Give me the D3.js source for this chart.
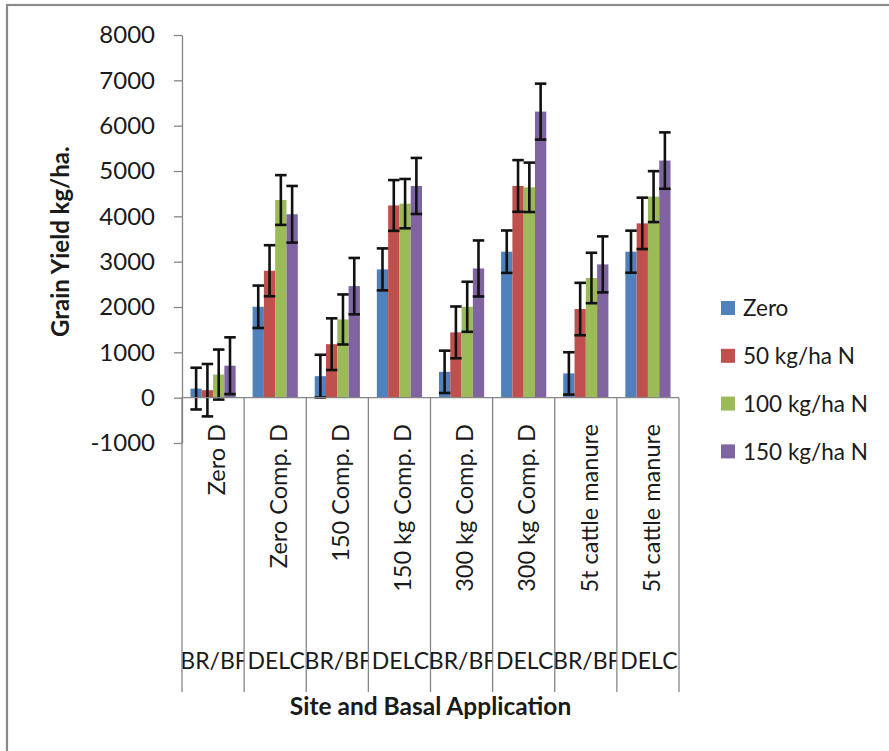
<!DOCTYPE html>
<html>
<head>
<meta charset="utf-8">
<script src="https://cdn.jsdelivr.net/npm/d3@7"></script>
<style>
  html, body { margin: 0; padding: 0; background: #fff; }
  svg { display: block; font-family: Lato, "Open Sans", sans-serif; }
</style>
</head>
<body>
<svg id="chart" width="889" height="751"></svg>
<script>
// ---- data ----
const treatments = ["Zero D", "Zero Comp. D", "150 Comp. D", "150 kg Comp. D",
                    "300 kg Comp. D", "300 kg Comp. D", "5t cattle manure", "5t cattle manure"];
const sites = ["BR/BF", "DELC", "BR/BF", "DELC", "BR/BF", "DELC", "BR/BF", "DELC"];
const seriesNames = ["Zero", "50 kg/ha N", "100 kg/ha N", "150 kg/ha N"];
const seriesColors = ["#4F81BD", "#C0504D", "#9BBB59", "#8064A2"];
const valZero = [200, 2005, 475, 2830, 570, 3220, 535, 3220];
const val50   = [165, 2800, 1180, 4240, 1440, 4670, 1955, 3845];
const val100  = [510, 4360, 1725, 4280, 2005, 4640, 2640, 4435];
const val150  = [705, 4045, 2460, 4670, 2850, 6310, 2940, 5230];
const errZero = [460, 468, 471, 463, 467, 468, 467, 464];
const err50   = [578, 563, 570, 560, 571, 570, 578, 567];
const err100  = [552, 549, 552, 544, 552, 545, 556, 562];
const err150  = [626, 625, 622, 618, 618, 617, 618, 622];
const yTicks = [-1000, 0, 1000, 2000, 3000, 4000, 5000, 6000, 7000, 8000];
const yTitle = "Grain Yield kg/ha.";
const xTitle = "Site and Basal Application";

const values = [valZero, val50, val100, val150];
const errors = [errZero, err50, err100, err150];

// ---- layout ----
const svg = d3.select("#chart");
const plotLeft = 182, plotRight = 679, plotTop = 35, plotBottom = 443;
const labelBottom = 692;
const axisColor = "#868686";

// outer frame
svg.append("rect")
  .attr("x", 7).attr("y", 5).attr("width", 900).attr("height", 800)
  .attr("fill", "none").attr("stroke", "#8a8a8a").attr("stroke-width", 2.2);

const idx = d3.range(treatments.length);
const x0 = d3.scaleBand().domain(idx).range([plotLeft, plotRight]).padding(0);
const x1 = d3.scaleBand().domain(d3.range(seriesNames.length))
  .range([0, x0.bandwidth()]).paddingInner(0).paddingOuter(0.75);
const y = d3.scaleLinear().domain([-1000, 8000]).range([plotBottom, plotTop]);

// y axis
const yAxis = svg.append("g")
  .attr("transform", `translate(${plotLeft},0)`)
  .call(d3.axisLeft(y).tickValues(yTicks).tickFormat(d => String(d))
        .tickSize(8).tickPadding(19).tickSizeOuter(0));
yAxis.select(".domain").attr("stroke", axisColor).attr("stroke-width", 1.3);
yAxis.selectAll(".tick line").attr("stroke", axisColor).attr("stroke-width", 1.3);
yAxis.selectAll(".tick text")
  .attr("font-family", "Lato, sans-serif").attr("font-size", 24).attr("fill", "#1a1a1a");

// bars
const groups = svg.append("g").selectAll("g")
  .data(idx).join("g")
  .attr("transform", i => `translate(${x0(i)},0)`);

groups.selectAll("rect")
  .data(i => seriesNames.map((s, k) => ({k, v: values[k][i]})))
  .join("rect")
  .attr("x", d => x1(d.k))
  .attr("width", x1.bandwidth())
  .attr("y", d => y(Math.max(0, d.v)))
  .attr("height", d => Math.abs(y(d.v) - y(0)))
  .attr("fill", d => seriesColors[d.k]);

// x axis baseline
svg.append("line")
  .attr("x1", plotLeft).attr("x2", plotRight)
  .attr("y1", y(0)).attr("y2", y(0))
  .attr("stroke", axisColor).attr("stroke-width", 1.3);

// error bars
const capW = 11.5;
const eb = groups.selectAll("g.err")
  .data(i => seriesNames.map((s, k) => ({k, v: values[k][i], e: errors[k][i]})))
  .join("g").attr("class", "err")
  .attr("stroke", "#111").attr("stroke-width", 2.6);
eb.append("line")
  .attr("x1", d => x1(d.k) + x1.bandwidth() / 2)
  .attr("x2", d => x1(d.k) + x1.bandwidth() / 2)
  .attr("y1", d => y(d.v + d.e)).attr("y2", d => y(d.v - d.e));
eb.append("line")
  .attr("x1", d => x1(d.k) + x1.bandwidth() / 2 - capW / 2)
  .attr("x2", d => x1(d.k) + x1.bandwidth() / 2 + capW / 2)
  .attr("y1", d => y(d.v + d.e)).attr("y2", d => y(d.v + d.e));
eb.append("line")
  .attr("x1", d => x1(d.k) + x1.bandwidth() / 2 - capW / 2)
  .attr("x2", d => x1(d.k) + x1.bandwidth() / 2 + capW / 2)
  .attr("y1", d => y(d.v - d.e)).attr("y2", d => y(d.v - d.e));

// category separators
const bounds = idx.map(i => x0(i)).concat([x0(idx[idx.length - 1]) + x0.bandwidth()]);
svg.append("g").selectAll("line")
  .data(bounds).join("line")
  .attr("x1", d => d).attr("x2", d => d)
  .attr("y1", y(0)).attr("y2", labelBottom)
  .attr("stroke", axisColor).attr("stroke-width", 1.3);

// rotated treatment labels
svg.append("g").selectAll("text")
  .data(idx).join("text")
  .attr("transform", i => `translate(${x0(i) + x0.bandwidth() / 2},424) rotate(-90)`)
  .attr("text-anchor", "end")
  .attr("dy", "0.5em")
  .attr("font-size", 23.5).attr("fill", "#1a1a1a")
  .text(i => treatments[i]);

// site labels, clipped to cell
const defs = svg.append("defs");
idx.forEach(i => {
  defs.append("clipPath").attr("id", "clip" + i)
    .append("rect").attr("x", x0(i) + 0.5).attr("y", 630)
    .attr("width", x0.bandwidth() - 1).attr("height", 60);
});
svg.append("g").selectAll("text")
  .data(idx).join("text")
  .attr("clip-path", i => `url(#clip${i})`)
  .attr("x", i => x0(i) + x0.bandwidth() / 2 + 1)
  .attr("y", 661)
  .attr("dy", "0.36em")
  .attr("text-anchor", "middle")
  .attr("font-size", 23).attr("fill", "#1a1a1a")
  .text(i => sites[i]);

// axis titles
svg.append("text")
  .attr("transform", `translate(61,337) rotate(-90)`)
  .attr("text-anchor", "start").attr("dy", "0.35em")
  .attr("font-size", 24).attr("font-weight", "bold").attr("fill", "#1a1a1a")
  .text(yTitle);
svg.append("text")
  .attr("x", (plotLeft + plotRight) / 2).attr("y", 706)
  .attr("text-anchor", "middle").attr("dy", "0.35em")
  .attr("font-size", 24.5).attr("font-weight", "bold").attr("fill", "#1a1a1a")
  .text(xTitle);

// legend
const leg = svg.append("g").selectAll("g")
  .data(seriesNames).join("g")
  .attr("transform", (d, k) => `translate(721,${308 + k * 47.8})`);
leg.append("rect").attr("x", 0).attr("y", -7).attr("width", 14).attr("height", 14)
  .attr("fill", (d, k) => seriesColors[k]);
leg.append("text").attr("x", 22).attr("dy", "0.36em")
  .attr("font-size", 22.5).attr("fill", "#1a1a1a")
  .text(d => d);
</script>
</body>
</html>
